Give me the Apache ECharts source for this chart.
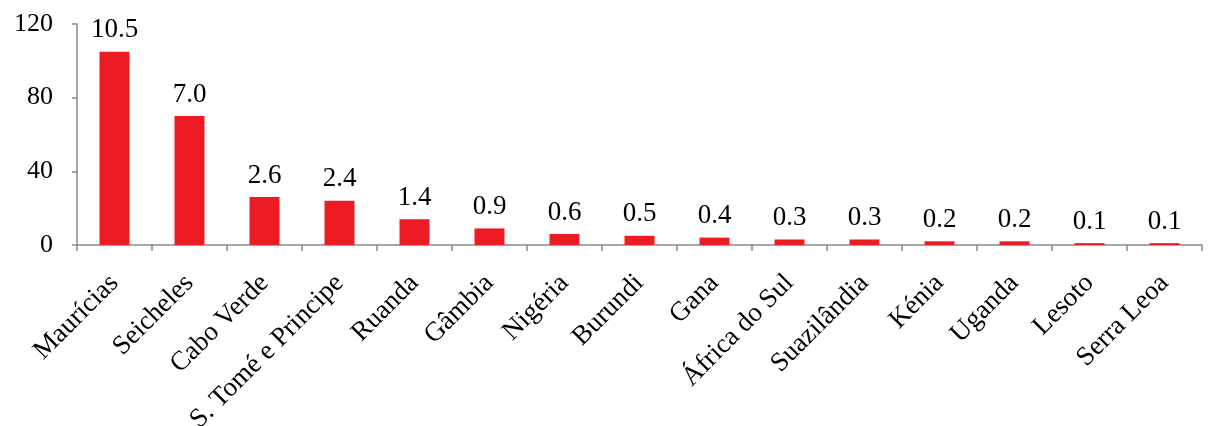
<!DOCTYPE html>
<html>
<head>
<meta charset="utf-8">
<script src="https://cdn.jsdelivr.net/npm/echarts@6/dist/echarts.min.js"></script>
<style>
  html, body { margin: 0; padding: 0; background: #fff; }
  #chart { width: 1210px; height: 426px; }
</style>
</head>
<body>
<div id="chart"></div>
<script>
// Countries along the horizontal axis
const countries = ['Maurícias', 'Seicheles', 'Cabo Verde', 'S. Tomé e Principe', 'Ruanda', 'Gâmbia',
  'Nigéria', 'Burundi', 'Gana', 'África do Sul', 'Suazilândia', 'Kénia', 'Uganda', 'Lesoto', 'Serra Leoa'];
// Value shown above each bar
const values = [10.5, 7.0, 2.6, 2.4, 1.4, 0.9, 0.6, 0.5, 0.4, 0.3, 0.3, 0.2, 0.2, 0.1, 0.1];
// Vertical axis tick labels (axis runs in units ten times the bar values)
const yTickLabels = ['0', '40', '80', '120'];

const axisGrey = '#898989';
const fontFamily = '"Liberation Serif", "DejaVu Serif", serif';

const chart = echarts.init(document.getElementById('chart'));
chart.setOption({
  animation: false,
  grid: { left: 77, right: 8, top: 24, bottom: 181, containLabel: false, outerBoundsMode: 'none' },
  xAxis: {
    type: 'category',
    data: countries,
    boundaryGap: true,
    axisLine: { lineStyle: { color: axisGrey, width: 1.5 } },
    axisTick: { show: true, length: 6, lineStyle: { color: axisGrey, width: 1.5 } },
    axisLabel: {
      interval: 0,
      rotate: 45,
      margin: 34,
      color: '#000',
      fontFamily: fontFamily,
      fontSize: 27
    }
  },
  yAxis: {
    type: 'value',
    min: 0,
    max: 12,
    interval: 4,
    splitLine: { show: false },
    axisLine: { show: true, lineStyle: { color: axisGrey, width: 1.5 } },
    axisTick: { show: true, length: 5, lineStyle: { color: axisGrey, width: 1.5 } },
    axisLabel: {
      margin: 24,
      color: '#000',
      fontFamily: fontFamily,
      fontSize: 26,
      formatter: function (v) { return yTickLabels[Math.round(v / 4)]; }
    }
  },
  series: [{
    type: 'bar',
    data: values,
    barWidth: '40%',
    itemStyle: { color: '#ED1C24' },
    label: {
      show: true,
      position: 'top',
      distance: 8,
      color: '#000',
      fontFamily: fontFamily,
      fontSize: 27,
      formatter: function (p) { return p.value.toFixed(1); }
    }
  }]
});
</script>
</body>
</html>
